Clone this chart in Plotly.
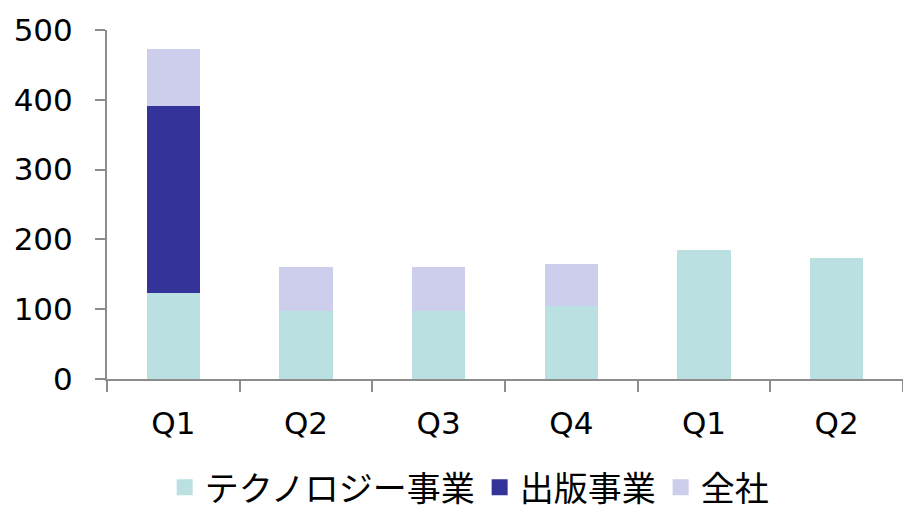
import plotly.graph_objects as go

categories = ["Q1", "Q2", "Q3", "Q4", "Q1", "Q2"]
tech = [123, 98, 98, 104, 185, 174]
publishing = [268, 0, 0, 0, 0, 0]
corporate = [82, 62, 62, 61, 0, 0]

series_names = ["テクノロジー事業", "出版事業", "全社"]
colors = ["#BAE0E2", "#333399", "#CDCDEC"]

x = list(range(len(categories)))
fig = go.Figure()
for name, vals, c in zip(series_names, [tech, publishing, corporate], colors):
    fig.add_trace(go.Bar(x=x, y=vals, name=name, marker=dict(color=c, line=dict(width=0)),
                         width=0.4, showlegend=False))
for name, c in zip(series_names, colors):
    fig.add_trace(go.Scatter(x=[None], y=[None], mode="markers", name=name,
                             marker=dict(symbol="square", size=16, color=c)))

font_family = "DejaVu Sans, Verdana, Noto Sans CJK JP"
fig.update_layout(
    barmode="stack",
    width=903, height=508,
    margin=dict(l=107, r=0, t=30, b=129),
    plot_bgcolor="white", paper_bgcolor="white",
    font=dict(family=font_family, size=31, color="#000000"),
    bargap=0,
    legend=dict(orientation="h", x=0.455, xanchor="center", yref="container", y=0.04, yanchor="middle",
                font=dict(size=34), traceorder="normal", tracegroupgap=0,
                borderwidth=0),
    xaxis=dict(range=[-0.5, 5.5], tickmode="array", tickvals=x, ticktext=categories,
               ticks="", showline=True, linecolor="#8C8C8C", linewidth=2,
               showgrid=False, zeroline=False, ticklabelstandoff=16, automargin=False,
               minor=dict(tickmode="array", tickvals=[i - 0.5 for i in range(len(categories) + 1)],
                          ticks="outside", ticklen=11, tickcolor="#8C8C8C", tickwidth=2, showgrid=False)),
    yaxis=dict(range=[0, 500], tickmode="array", tickvals=[0, 100, 200, 300, 400, 500],
               ticks="outside", ticklen=10, tickcolor="#8C8C8C", tickwidth=2, automargin=False,
               showline=True, linecolor="#8C8C8C", linewidth=2, showgrid=False, zeroline=False,
               ticklabelstandoff=16),
)
fig.write_html("out.html", config={"displayModeBar": False},
               post_script="document.body.style.margin='0';")
